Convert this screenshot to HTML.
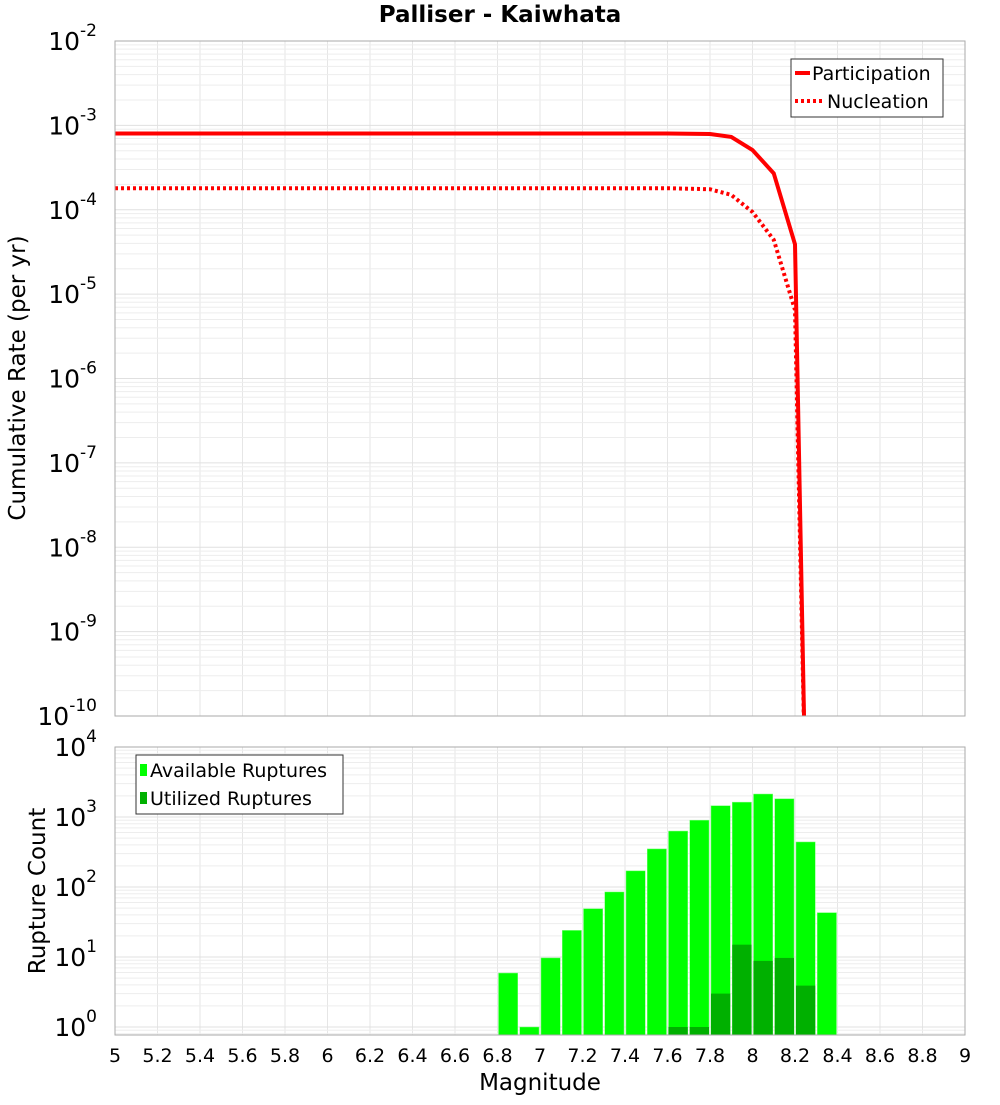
<!DOCTYPE html>
<html><head><meta charset="utf-8"><style>
body{margin:0;background:#fff;font-family:"Liberation Sans","DejaVu Sans",sans-serif}
</style></head><body>
<svg id="c" width="1000" height="1100" xmlns="http://www.w3.org/2000/svg" font-family="DejaVu Sans, Liberation Sans, sans-serif"></svg>
<script>
const mags=[5,7.6,7.8,7.9,8.0,8.1,8.2,8.25];
const partRates=[8.0e-4,8.0e-4,7.9e-4,7.3e-4,5.1e-4,2.7e-4,3.9e-5,1e-11];
const nuclRates=[1.8e-4,1.8e-4,1.75e-4,1.5e-4,9.4e-5,4.4e-5,6.5e-6,1e-11];
const binCenters=[6.85,6.95,7.05,7.15,7.25,7.35,7.45,7.55,7.65,7.75,7.85,7.95,8.05,8.15,8.25,8.35];
const availCounts=[5.9,1,9.7,24,49,85,170,350,630,900,1450,1630,2130,1820,440,43];
const usedCounts=[0,0,0,0,0,0,0,0,1,1,3,15,8.8,9.7,3.9,0];
const xTicks=[5,5.2,5.4,5.6,5.8,6,6.2,6.4,6.6,6.8,7,7.2,7.4,7.6,7.8,8,8.2,8.4,8.6,8.8,9];
const topExps=[-2,-3,-4,-5,-6,-7,-8,-9,-10];
const botExps=[4,3,2,1,0];

const svg=document.getElementById('c');const NS='http://www.w3.org/2000/svg';
function el(t,a,p){const e=document.createElementNS(NS,t);for(const k in a)e.setAttribute(k,a[k]);(p||svg).appendChild(e);return e;}
const L=115,R=965,T1=41,B1=716,T2=747,B2=1035;
const x=m=>L+(m-5)/4*(R-L);
const y1=v=>T1+(-2-Math.log10(v))*(B1-T1)/8;
const D2=70,y2=v=>T2+(4-Math.log10(v))*D2;

function grid(T,B,yf,eTop,eBot){
  for(const t of xTicks){const g=el('line',{x1:x(t),x2:x(t),y1:T,y2:B,stroke:'#e6e6e6'});}
  for(let e=eBot;e<eTop;e++)for(let k=1;k<10;k++){const yy=yf(k*Math.pow(10,e));if(yy<T||yy>B)continue;const g=el('line',{x1:L,x2:R,y1:yy,y2:yy,stroke:k==1?'#e0e0e0':'#ededed'});}
}
grid(T1,B1,y1,-2,-10);
grid(T2,B2,y2,4,-1);

const clip=el('clipPath',{id:'cp'});el('rect',{x:L,y:T1,width:R-L,height:B1-T1},clip);
function line(arr,dash,name){const p=el('polyline',{points:mags.map((m,i)=>x(m)+','+y1(arr[i])).join(' '),fill:'none',stroke:'#ff0000','stroke-width':4,'clip-path':'url(#cp)'});if(dash)p.setAttribute('stroke-dasharray',dash);

}
line(partRates,null,'participation-line');
line(nuclRates,'3,3','nucleation-line');

const bw=(x(5.1)-x(5))-2;
binCenters.forEach((c,i)=>{const x0=x(c-0.05)+1;
 const r=el('rect',{x:x0,y:y2(availCounts[i]),width:bw,height:B2-y2(availCounts[i]),fill:'#00ff00',stroke:'#7fff7f','stroke-width':0.5});
 
 
 if(usedCounts[i]>0){const u=el('rect',{x:x0,y:y2(usedCounts[i]),width:bw,height:B2-y2(usedCounts[i]),fill:'#00b000'});
 
 }
});

el('rect',{x:L,y:T1,width:R-L,height:B1-T1,fill:'none',stroke:'#aaa'});
el('rect',{x:L,y:T2,width:R-L,height:B2-T2,fill:'none',stroke:'#aaa'});

function txt(s,a,name){const t=el('text',a);t.textContent=s;return t;}
xTicks.forEach(t=>txt(String(t),{x:x(t),y:1062,'font-size':19,'text-anchor':'middle',fill:'#000'},'x-tick-label'));
function ylab(e,yy){const t=txt('10',{x:97,y:yy+9,'font-size':25,'text-anchor':'end',fill:'#000'},'y-tick-label');
 const s=el('tspan',{dy:-14,'font-size':17});s.textContent=String(e);t.appendChild(s);}
topExps.forEach(e=>ylab(e,y1(Math.pow(10,e))));
botExps.forEach(e=>ylab(e,y2(Math.pow(10,e))));

txt('Palliser - Kaiwhata',{x:500,y:22,'font-size':23,'font-weight':'bold','text-anchor':'middle'},'chart-title');
txt('Cumulative Rate (per yr)',{x:0,y:0,'font-size':23,'text-anchor':'middle',transform:'translate(25,378) rotate(-90)'},'y-axis-title');
txt('Rupture Count',{x:0,y:0,'font-size':23,'text-anchor':'middle',transform:'translate(45,891) rotate(-90)'},'y-axis-title-bottom');
txt('Magnitude',{x:540,y:1090,'font-size':23,'text-anchor':'middle'},'x-axis-title');

el('rect',{x:791,y:59,width:152,height:58,fill:'#fff',stroke:'#333'});
el('line',{x1:795,x2:810,y1:73,y2:73,stroke:'#f00','stroke-width':4});
el('line',{x1:795,x2:822,y1:101,y2:101,stroke:'#f00','stroke-width':4,'stroke-dasharray':'3,3'});
txt('Participation',{x:812,y:80,'font-size':19},'legend-participation');
txt('Nucleation',{x:827,y:108,'font-size':19},'legend-nucleation');
el('rect',{x:136,y:755,width:207,height:59,fill:'#fff',stroke:'#333'});
el('rect',{x:140,y:764,width:7,height:12,fill:'#00ff00'});
el('rect',{x:140,y:792,width:7,height:12,fill:'#00b000'});
txt('Available Ruptures',{x:150,y:777,'font-size':19},'legend-available');
txt('Utilized Ruptures',{x:150,y:805,'font-size':19},'legend-utilized');
</script>
</body></html>
